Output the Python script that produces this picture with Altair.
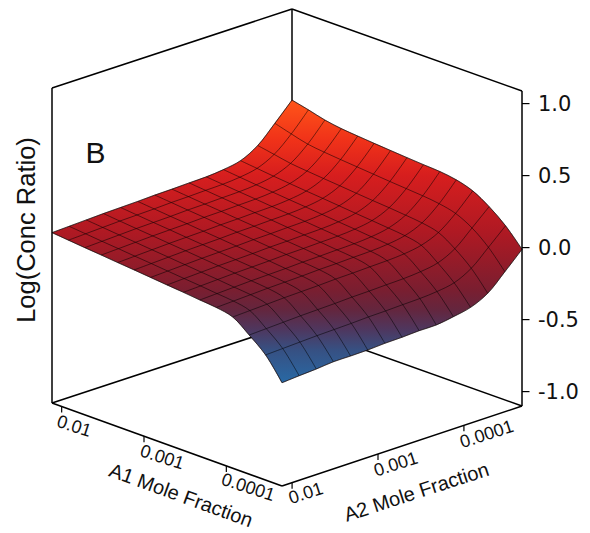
import math
import altair as alt
import pandas as pd

# Surface height: rows run along A1 (0.01 -> 0.0001 side), columns along A2
Z = [
 [.083,.088,.093,.098,.101,.104,.109,.111,.115,.118,.129,.152,.218,.333,.455],
 [.072,.077,.082,.087,.090,.093,.098,.100,.104,.107,.117,.139,.197,.300,.428],
 [.061,.066,.071,.076,.079,.082,.087,.089,.093,.096,.105,.126,.175,.270,.398],
 [.051,.056,.061,.066,.069,.072,.077,.079,.083,.086,.095,.115,.163,.255,.379],
 [.040,.045,.050,.055,.058,.061,.066,.068,.072,.075,.084,.104,.152,.244,.368],
 [.030,.035,.040,.045,.048,.051,.056,.058,.062,.065,.074,.094,.142,.234,.358],
 [.019,.024,.029,.034,.037,.040,.045,.047,.051,.054,.063,.083,.131,.224,.349],
 [.008,.013,.018,.023,.026,.029,.034,.036,.040,.043,.052,.072,.121,.214,.340],
 [-.002,.003,.008,.013,.016,.019,.024,.026,.030,.033,.042,.062,.112,.205,.332],
 [-.014,-.009,-.004,.001,.004,.007,.012,.014,.018,.021,.030,.051,.101,.196,.325],
 [-.025,-.020,-.015,-.010,-.007,-.004,.001,.003,.007,.010,.019,.039,.088,.182,.308],
 [-.050,-.045,-.040,-.035,-.032,-.029,-.024,-.022,-.018,-.015,-.007,.013,.062,.155,.272],
 [-.134,-.129,-.124,-.119,-.116,-.113,-.108,-.106,-.102,-.099,-.090,-.069,-.010,.095,.203],
 [-.231,-.226,-.221,-.216,-.213,-.210,-.205,-.203,-.199,-.196,-.187,-.166,-.105,.001,.111],
 [-.383,-.374,-.367,-.356,-.356,-.354,-.347,-.345,-.339,-.339,-.321,-.296,-.238,-.128,-.012],
]
Z_TICKS = [1.0, 0.5, 0.0, -0.5, -1.0]
Z_LABELS = ["1.0", "0.5", "0.0", "-0.5", "-1.0"]
MOLE = [0.01, 0.001, 0.0001]
MOLE_LABELS = ["0.01", "0.001", "0.0001"]
Z_MIN, Z_MAX = -1.1, 1.0875
GRAD_STOPS = [(0, "#ff5519"), (.141, "#f03219"), (.265, "#d71e1e"), (.466, "#af1923"),
              (.565, "#961b28"), (.671, "#7a1e30"), (.742, "#64263e"), (.813, "#4e375f"),
              (.883, "#375082"), (1, "#2869a5")]

# Oblique box projection
L, F, R, B = (52, 403), (282, 486), (522, 406), (292, 324)
PX_PER_Z = 144


def proj(u, v, z):
    x = L[0]*(1-u)*(1-v) + F[0]*u*(1-v) + B[0]*(1-u)*v + R[0]*u*v
    y = L[1]*(1-u)*(1-v) + F[1]*u*(1-v) + B[1]*(1-u)*v + R[1]*u*v
    return x, y - (z - Z_MIN)*PX_PER_Z


def mole_pos(m):
    return 0.042 + 0.358*(-2 - math.log10(m))


n = len(Z)
node = lambda i, j: proj(i/(n-1), j/(n-1), Z[i][j])

# outline of the surface; each corner is listed twice so that the curve keeps it sharp
ring = [(0, 0)] + [(i, 0) for i in range(n)] + [(n-1, 0)] + [(n-1, j) for j in range(1, n)] + [(n-1, n-1)] + \
       [(i, n-1) for i in range(n-2, -1, -1)] + [(0, n-1)] + [(0, j) for j in range(n-2, -1, -1)] + [(0, 0)]
outline = pd.DataFrame([{"k": k, "x": node(*p)[0], "y": node(*p)[1]} for k, p in enumerate(ring)])

# mesh lines
rows = []
for a in range(n):
    for b in range(n):
        x, y = node(a, b)
        rows.append({"line": f"a{a}", "k": b, "x": x, "y": y})
        x, y = node(b, a)
        rows.append({"line": f"b{a}", "k": b, "x": x, "y": y})
mesh = pd.DataFrame(rows)


def seg(p, q):
    return {"x": p[0], "y": p[1], "x2": q[0], "y2": q[1]}


back = [seg(proj(0, 0, Z_MIN), proj(0, 1, Z_MIN)),
        seg(proj(0, 1, Z_MIN), proj(1, 1, Z_MIN)),
        seg(proj(0, 1, Z_MIN), proj(0, 1, Z_MAX))]
front = [seg(proj(0, 0, Z_MIN), proj(0, 0, Z_MAX)),
         seg(proj(0, 0, Z_MAX), proj(0, 1, Z_MAX)),
         seg(proj(0, 1, Z_MAX), proj(1, 1, Z_MAX)),
         seg(proj(1, 1, Z_MAX), proj(1, 1, Z_MIN)),
         seg(proj(0, 0, Z_MIN), proj(1, 0, Z_MIN)),
         seg(proj(1, 0, Z_MIN), proj(1, 1, Z_MIN))]
ticks = []
for z in Z_TICKS:
    p = proj(1, 1, z)
    ticks.append(seg(p, (p[0]+7.5, p[1])))
for m in MOLE:
    p = proj(mole_pos(m), 0, Z_MIN)
    ticks.append(seg(p, (p[0], p[1]+6)))
    p = proj(1, mole_pos(m), Z_MIN)
    ticks.append(seg(p, (p[0], p[1]+6)))

X = alt.X("x:Q", scale=alt.Scale(domain=[8, 582]), axis=None)
Y = alt.Y("y:Q", scale=alt.Scale(domain=[525, 8]), axis=None)


def rules(data, width):
    return alt.Chart(pd.DataFrame(data)).mark_rule(color="#000000", strokeWidth=width).encode(
        x=X, y=Y, x2="x2:Q", y2="y2:Q")


def text(data, **kw):
    return alt.Chart(pd.DataFrame(data)).mark_text(**kw).encode(
        x=X, y=Y, text="t:N")


gradient = alt.LinearGradient(
    gradient="linear", x1=0, x2=0, y1=0, y2=1,
    stops=[alt.GradientStop(offset=o, color=c) for o, c in GRAD_STOPS])

surface = alt.Chart(outline).mark_line(fill=gradient, stroke="#3a1a1a", strokeWidth=0.5,
                                       interpolate="catmull-rom").encode(
    x=X, y=Y, order="k:Q")
mesh_lines = alt.Chart(mesh).mark_line(color="#000000", strokeWidth=0.6, opacity=0.85,
                                       interpolate="catmull-rom").encode(
    x=X, y=Y, detail="line:N", order="k:Q")

z_labels = text([{"x": 538, "y": proj(1, 1, z)[1]+1, "t": t} for z, t in zip(Z_TICKS, Z_LABELS)],
                font="DejaVu Sans", fontSize=21, align="left", baseline="middle", color="#111111")
a1_labels = text([{"x": x, "y": y, "t": t} for (x, y), t in zip([(74, 427), (162, 458), (248, 488)], MOLE_LABELS)],
                 font="Liberation Sans", fontSize=18, angle=18, align="center", baseline="middle", color="#111111")
a2_labels = text([{"x": x, "y": y, "t": t} for (x, y), t in zip([(306, 494), (396, 465), (487, 435)], MOLE_LABELS)],
                 font="Liberation Sans", fontSize=18, angle=342, align="center", baseline="middle", color="#111111")
a1_title = text([{"x": 180.7, "y": 496, "t": "A1 Mole Fraction"}], font="Liberation Sans", fontSize=20,
                angle=20, align="center", baseline="middle", color="#111111")
a2_title = text([{"x": 416.7, "y": 492.7, "t": "A2 Mole Fraction"}], font="Liberation Sans", fontSize=20,
                angle=342, align="center", baseline="middle", color="#111111")
z_title = text([{"x": 27, "y": 230, "t": "Log(Conc Ratio)"}], font="Liberation Sans", fontSize=25.5,
               angle=270, align="center", baseline="middle", color="#111111")
panel = text([{"x": 95.5, "y": 154, "t": "B"}], font="Liberation Sans", fontSize=30,
             align="center", baseline="middle", color="#111111")

chart = alt.layer(
    rules(back, 1.5), surface, mesh_lines, rules(front, 1.5), rules(ticks, 1.2),
    z_labels, a1_labels, a2_labels, a1_title, a2_title, z_title, panel,
).properties(width=574, height=517, padding=0, background="white").configure_view(stroke=None)

chart.save("out.html", embed_options={"renderer": "svg", "actions": False})
